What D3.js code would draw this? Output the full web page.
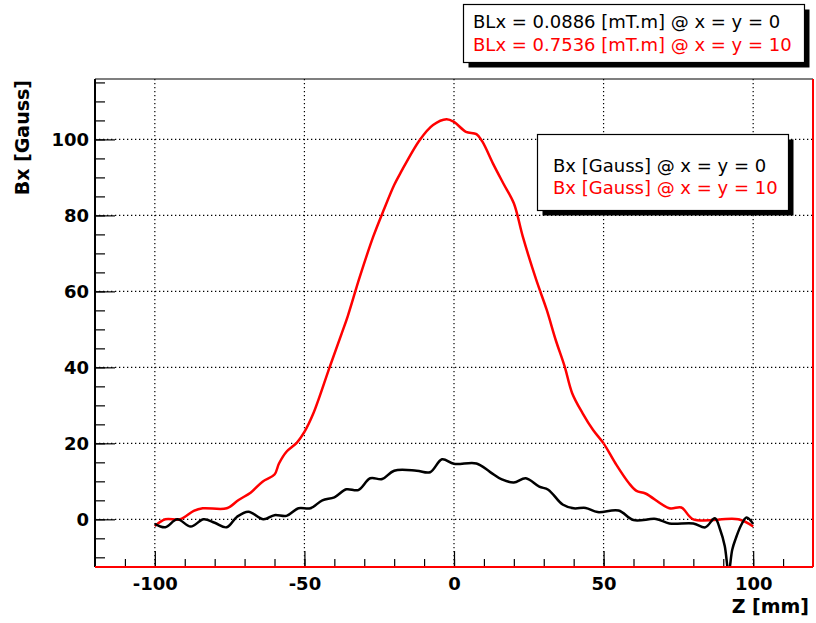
<!DOCTYPE html>
<html>
<head>
<meta charset="utf-8">
<script src="https://cdn.jsdelivr.net/npm/d3@7"></script>
<style>
  body { margin: 0; background: #fff; }
  svg { display: block; }
</style>
</head>
<body>
<div id="chart"></div>
<script>
// Bx along Z
var zBlack = [-100, -96.5, -92.5, -88, -83.7, -80, -76, -72.5, -68.7, -63.7, -60, -56, -52, -48, -44, -40, -36, -32, -28, -24, -20, -12.5, -8, -4, 0, 7.5, 12, 16, 20, 24, 28.5, 31.5, 36.3, 40, 44, 48, 55, 60, 67.5, 72, 80, 84, 87.2, 89, 90.5, 91.8, 93, 94.2, 96, 97.8, 100];
var bxBlack = [-1.2, -2.1, 0, -1.9, 0, -0.9, -2.1, 0.7, 2, 0, 1.1, 0.9, 2.9, 2.9, 5, 5.8, 7.9, 7.7, 10.8, 10.6, 12.8, 12.8, 12.4, 15.8, 14.6, 14.7, 12.5, 10.5, 9.7, 10.8, 8.6, 7.8, 3.9, 2.9, 3, 1.9, 2.3, -0.2, 0.1, -1.1, -1.1, -2.1, 0.3, -2.8, -7, -14, -8, -5, -1.5, 0.5, -1.2];

var zRed = [-100, -96.5, -91.5, -87, -84, -76, -72, -68, -64, -60, -58.5, -56, -52.5, -50, -47, -41.5, -37.5, -35.5, -31.5, -27, -23.5, -20, -18, -11.5, -7, -2.5, 0, 4, 7.5, 9.5, 13, 16.5, 20, 23, 27.5, 31, 34, 37, 39.5, 43, 46.5, 50, 54, 58.5, 61, 64, 72, 76, 80, 95, 100];
var bxRed = [-1.8, 0, 0, 2.2, 2.9, 2.9, 5.1, 7, 9.9, 11.8, 14.7, 17.8, 20.2, 23, 27.9, 40.2, 49, 53.5, 63.8, 74.4, 81.4, 88, 91, 99.8, 103.8, 105.3, 104.6, 102, 101.4, 99.4, 93.7, 88.4, 83.2, 74.4, 63, 55.1, 47.2, 40.2, 33.2, 27.9, 23.5, 20, 14.7, 9.5, 7.5, 6.8, 2.9, 3.1, 0, 0, -1.9];

var xMajor = [-100, -50, 0, 50, 100];
var yMajor = [0, 20, 40, 60, 80, 100];

var legendBL = ["BLx = 0.0886 [mT.m] @ x = y = 0", "BLx = 0.7536 [mT.m] @ x = y = 10"];
var legendBx = ["Bx [Gauss] @ x = y = 0", "Bx [Gauss] @ x = y = 10"];
var seriesColors = ["#000000", "#ff0000"];

// set the dimensions and margins of the graph
var margin = {top: 79, right: 3, bottom: 56, left: 95},
    width = 816 - margin.left - margin.right,
    height = 623 - margin.top - margin.bottom;

var svg = d3.select("#chart")
    .append("svg")
    .attr("width", 816)
    .attr("height", 623);

var g = svg.append("g")
    .attr("transform", "translate(" + margin.left + "," + margin.top + ")");

var x = d3.scaleLinear().domain([-120, 120]).range([0, width]);
var y = d3.scaleLinear().domain([-12.55, 115.9]).range([height, 0]);

var labelFont = "'DejaVu Sans', sans-serif";
// plain hyphen for negatives, like the original
var fmt = function (d) { return String(d); };

// grid
g.append("g").selectAll("line")
    .data(xMajor).enter().append("line")
    .attr("x1", function (d) { return x(d); })
    .attr("x2", function (d) { return x(d); })
    .attr("y1", 0).attr("y2", height)
    .attr("stroke", "#000").attr("stroke-width", 1.2)
    .attr("stroke-dasharray", "1.3,2.7");
g.append("g").selectAll("line")
    .data(yMajor).enter().append("line")
    .attr("y1", function (d) { return y(d); })
    .attr("y2", function (d) { return y(d); })
    .attr("x1", 0).attr("x2", width)
    .attr("stroke", "#000").attr("stroke-width", 1.2)
    .attr("stroke-dasharray", "1.3,2.7");

// X axis: minor then major ticks, pointing into the frame
g.append("g")
    .attr("transform", "translate(0," + height + ")")
    .call(d3.axisBottom(x).tickValues(d3.range(-110, 111, 10)).tickSize(-8).tickFormat(""))
    .call(function (a) { a.select(".domain").remove(); });
var xAxis = g.append("g")
    .attr("transform", "translate(0," + height + ")")
    .call(d3.axisBottom(x).tickValues(xMajor).tickSize(-16).tickPadding(10).tickFormat(fmt));
xAxis.select(".domain").remove();

// Y axis
g.append("g")
    .call(d3.axisLeft(y).tickValues(d3.range(-10, 116, 5)).tickSize(-10).tickFormat(""))
    .call(function (a) { a.select(".domain").remove(); });
var yAxis = g.append("g")
    .call(d3.axisLeft(y).tickValues(yMajor).tickSize(-20).tickPadding(6).tickFormat(fmt));
yAxis.select(".domain").remove();

g.selectAll(".tick line").attr("stroke", "#000").attr("stroke-width", 1.2);
g.selectAll(".tick text")
    .attr("font-family", labelFont)
    .attr("font-weight", "bold")
    .attr("font-size", 18)
    .attr("fill", "#000");

// curves, clipped to the frame
svg.append("defs").append("clipPath").attr("id", "frame")
    .append("rect").attr("width", width).attr("height", height);

var line = d3.line()
    .x(function (d) { return x(d[0]); })
    .y(function (d) { return y(d[1]); })
    .curve(d3.curveCatmullRom.alpha(0.5));

var curves = g.append("g").attr("clip-path", "url(#frame)");
curves.append("path")
    .datum(d3.zip(zRed, bxRed))
    .attr("d", line)
    .attr("fill", "none")
    .attr("stroke", seriesColors[1])
    .attr("stroke-width", 2.5)
    .attr("stroke-linejoin", "round");
curves.append("path")
    .datum(d3.zip(zBlack, bxBlack))
    .attr("d", line)
    .attr("fill", "none")
    .attr("stroke", seriesColors[0])
    .attr("stroke-width", 2.5)
    .attr("stroke-linejoin", "round");

// frame: left/top black, bottom/right red
g.append("line").attr("x1", 0).attr("x2", width).attr("y1", 0).attr("y2", 0)
    .attr("stroke", "#000").attr("stroke-width", 1.2);
g.append("line").attr("x1", 0).attr("x2", 0).attr("y1", 0).attr("y2", height)
    .attr("stroke", "#000").attr("stroke-width", 2);
g.append("line").attr("x1", 0).attr("x2", width).attr("y1", height).attr("y2", height)
    .attr("stroke", "#ff0000").attr("stroke-width", 2);
g.append("line").attr("x1", width).attr("x2", width).attr("y1", 0).attr("y2", height)
    .attr("stroke", "#ff0000").attr("stroke-width", 2);

// axis titles
svg.append("text")
    .attr("transform", "translate(29,80) rotate(-90)")
    .attr("text-anchor", "end")
    .attr("font-family", labelFont)
    .attr("font-weight", "bold")
    .attr("font-size", 19)
    .text("Bx [Gauss]");
svg.append("text")
    .attr("x", 809).attr("y", 613)
    .attr("text-anchor", "end")
    .attr("font-family", labelFont)
    .attr("font-weight", "bold")
    .attr("font-size", 19)
    .text("Z [mm]");

// legend boxes with shadow
function legendBox(bx, by, bw, bh, lines, tx, ty, dy) {
    var lg = svg.append("g");
    lg.append("rect").attr("x", bx + 5).attr("y", by + 5).attr("width", bw).attr("height", bh).attr("fill", "#000");
    lg.append("rect").attr("x", bx).attr("y", by).attr("width", bw).attr("height", bh)
        .attr("fill", "#fff").attr("stroke", "#000").attr("stroke-width", 1.2);
    lg.selectAll("text").data(lines).enter().append("text")
        .attr("x", tx)
        .attr("y", function (d, i) { return ty + i * dy; })
        .attr("font-family", labelFont)
        .attr("font-size", 18)
        .attr("fill", function (d, i) { return seriesColors[i]; })
        .text(function (d) { return d; });
}
legendBox(463.5, 4.5, 341, 58, legendBL, 473, 28, 23);
legendBox(537.5, 134.5, 251, 76, legendBx, 553, 172, 22);
</script>
</body>
</html>
